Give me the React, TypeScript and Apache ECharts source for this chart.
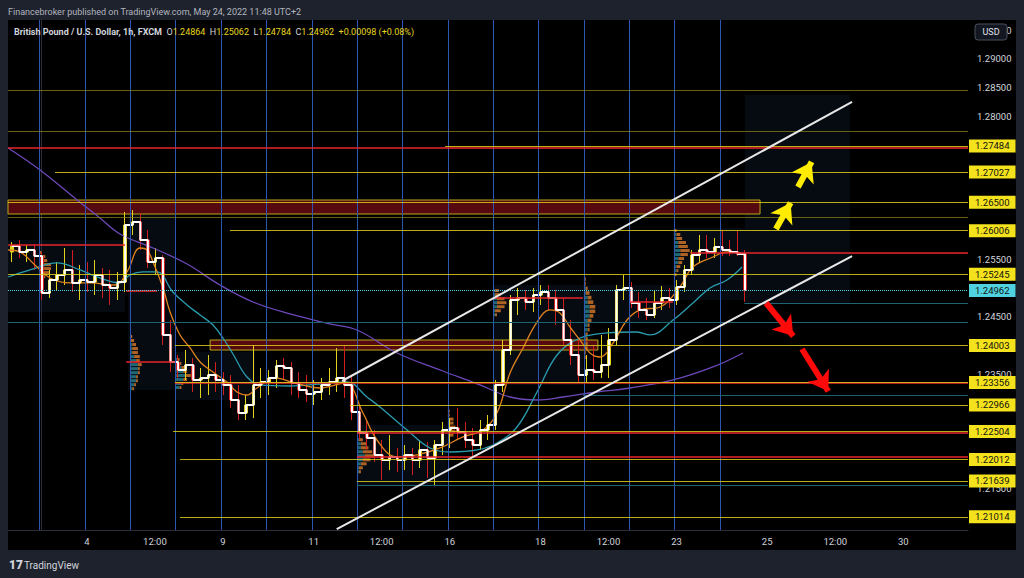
import React, { useEffect, useRef } from 'react';
import * as echarts from 'echarts';

// ---------------- data ----------------
// 4-hour candles: [open, close, low, high]
const candles: number[][] = [
  [1.25633, 1.25737, 1.25458, 1.25807], [1.25737, 1.25633, 1.25528, 1.25842], [1.25633, 1.25668, 1.25458, 1.25755], [1.25668, 1.25563, 1.25319, 1.25772],
  [1.25563, 1.24918, 1.24796, 1.25633], [1.24918, 1.25144, 1.24831, 1.25319], [1.25144, 1.25231, 1.24970, 1.25458], [1.25231, 1.25319, 1.25057, 1.25702],
  [1.25319, 1.25092, 1.24935, 1.25668], [1.25092, 1.25144, 1.24796, 1.25406], [1.25144, 1.25109, 1.24935, 1.25458], [1.25109, 1.25231, 1.24883, 1.25493],
  [1.25231, 1.25057, 1.24831, 1.25354], [1.25057, 1.25005, 1.24709, 1.25319], [1.25005, 1.25109, 1.24796, 1.25284], [1.25109, 1.26104, 1.24935, 1.26331],
  [1.26104, 1.26156, 1.25930, 1.26366], [1.26156, 1.25842, 1.25668, 1.26296], [1.25842, 1.25458, 1.25354, 1.26017], [1.25458, 1.25528, 1.25231, 1.25702],
  [1.25528, 1.24185, 1.24011, 1.25580], [1.24185, 1.23714, 1.23539, 1.24447], [1.23714, 1.23574, 1.23435, 1.23836], [1.23574, 1.23662, 1.23400, 1.23923],
  [1.23662, 1.23400, 1.23191, 1.23784], [1.23400, 1.23435, 1.23086, 1.23609], [1.23435, 1.23487, 1.23138, 1.23836], [1.23487, 1.23400, 1.23191, 1.23714],
  [1.23400, 1.23313, 1.23138, 1.23539], [1.23313, 1.23051, 1.22912, 1.23487], [1.23051, 1.22825, 1.22702, 1.23313], [1.22825, 1.22964, 1.22702, 1.23138],
  [1.22964, 1.23313, 1.22737, 1.24011], [1.23313, 1.23365, 1.23086, 1.23609], [1.23365, 1.23435, 1.23138, 1.23574], [1.23435, 1.23644, 1.23260, 1.23749],
  [1.23644, 1.23609, 1.23400, 1.23784], [1.23609, 1.23348, 1.23138, 1.23714], [1.23348, 1.23226, 1.23086, 1.23539], [1.23226, 1.23156, 1.23016, 1.23487],
  [1.23156, 1.23191, 1.22964, 1.23400], [1.23191, 1.23313, 1.23051, 1.23435], [1.23313, 1.23365, 1.23138, 1.23609], [1.23365, 1.23435, 1.23191, 1.23958],
  [1.23435, 1.23313, 1.23086, 1.24011], [1.23313, 1.22842, 1.22702, 1.23487], [1.22842, 1.22476, 1.22354, 1.22964], [1.22476, 1.22389, 1.22179, 1.22702],
  [1.22389, 1.22092, 1.21970, 1.22528], [1.22092, 1.22005, 1.21656, 1.22354], [1.22005, 1.22057, 1.21830, 1.22441], [1.22057, 1.22005, 1.21795, 1.22214],
  [1.22005, 1.22092, 1.21830, 1.22266], [1.22092, 1.22005, 1.21743, 1.22214], [1.22005, 1.22179, 1.21865, 1.22354], [1.22179, 1.22040, 1.21691, 1.22319],
  [1.22040, 1.22266, 1.21569, 1.22354], [1.22266, 1.22528, 1.22092, 1.22668], [1.22528, 1.22563, 1.22214, 1.22737], [1.22563, 1.22493, 1.22354, 1.22912],
  [1.22493, 1.22354, 1.22214, 1.22668], [1.22354, 1.22266, 1.22040, 1.22563], [1.22266, 1.22528, 1.22179, 1.22702], [1.22528, 1.22615, 1.22354, 1.22790],
  [1.22615, 1.23313, 1.22528, 1.23400], [1.23313, 1.23923, 1.23191, 1.24098], [1.23923, 1.24796, 1.23836, 1.24883], [1.24796, 1.24831, 1.24534, 1.25005],
  [1.24831, 1.24761, 1.24621, 1.24970], [1.24761, 1.24883, 1.24586, 1.25005], [1.24883, 1.24935, 1.24709, 1.25057], [1.24935, 1.24831, 1.24621, 1.25057],
  [1.24831, 1.24621, 1.24360, 1.24970], [1.24621, 1.24098, 1.24011, 1.24831], [1.24098, 1.23836, 1.23662, 1.24447], [1.23836, 1.23487, 1.23365, 1.24098],
  [1.23487, 1.23574, 1.23365, 1.23836], [1.23574, 1.23539, 1.23400, 1.24011], [1.23539, 1.23662, 1.23435, 1.24185], [1.23662, 1.24098, 1.23435, 1.24307],
  [1.24098, 1.24970, 1.24011, 1.25057], [1.24970, 1.25005, 1.24796, 1.25231], [1.25005, 1.24744, 1.24656, 1.25109], [1.24744, 1.24621, 1.24482, 1.24935],
  [1.24621, 1.24534, 1.24447, 1.24831], [1.24534, 1.24744, 1.24482, 1.24970], [1.24744, 1.24831, 1.24621, 1.25039], [1.24831, 1.24796, 1.24656, 1.25005],
  [1.24796, 1.25022, 1.24709, 1.25144], [1.25022, 1.25319, 1.24935, 1.25406], [1.25319, 1.25580, 1.25231, 1.25668], [1.25580, 1.25668, 1.25458, 1.25930],
  [1.25668, 1.25633, 1.25528, 1.25930], [1.25633, 1.25720, 1.25528, 1.25877], [1.25720, 1.25668, 1.25563, 1.26017], [1.25668, 1.25633, 1.25563, 1.25842],
  [1.25633, 1.25598, 1.25563, 1.25999], [1.25598, 1.24962, 1.24761, 1.25668],
];

// hours of trading time, 0 = May 3 00:00
const hourMin = -17.75;
const hourMax = 490.25;
const slotHours = 4;

const timeTickHours = [24, 60, 96, 144, 180, 216, 264, 300, 336, 384, 420, 456];
const timeTickLabels = ['4', '12:00', '9', '11', '12:00', '16', '18', '12:00', '23', '25', '12:00', '30'];
const sessionBreakHours = [-1, 23, 47, 71, 95, 119, 143, 167, 191, 215, 239, 263, 287, 311, 335, 359];

const priceMin = 1.20784;
const priceMax = 1.2968;
const priceTicks = [1.295, 1.29, 1.285, 1.28, 1.255, 1.245, 1.235, 1.215];

const lastBar = [1.24864, 1.25062, 1.24784, 1.24962];
const lastChange = '+0.00098 (+0.08%)';

// moving averages [hour, price]
const maFast = [
  [-17.7, 1.25668], [-11.4, 1.25634], [-3.5, 1.25407], [4.5, 1.2518], [15.1, 1.25093], [25.6, 1.25093], [38.9, 1.25058], [45.2, 1.25285],
  [52.1, 1.25703], [55.8, 1.25668], [59.0, 1.25459], [64.3, 1.25006], [68.0, 1.24587], [73.3, 1.24186], [78.6, 1.23959], [83.9, 1.23715],
  [90.7, 1.2354], [98.1, 1.23366], [103.4, 1.23191], [108.7, 1.23139], [114.0, 1.23261], [123.5, 1.23436], [134.1, 1.23348], [147.4, 1.23261],
  [160.6, 1.23348], [170.1, 1.22825], [177.5, 1.22354], [188.1, 1.22058], [198.7, 1.22093], [210.9, 1.22215], [223.0, 1.22407], [233.6, 1.22529],
  [241.0, 1.22825], [247.9, 1.23523], [254.8, 1.23959], [262.2, 1.24412], [269.0, 1.24622], [274.3, 1.24569], [279.6, 1.24325], [284.9, 1.24099],
  [290.2, 1.23872], [295.5, 1.23802], [302.4, 1.24046], [309.8, 1.24447], [316.7, 1.24622], [327.3, 1.24674], [337.8, 1.25023], [344.7, 1.25372],
  [355.3, 1.25546], [362.7, 1.25634], [369.6, 1.25616], [372.2, 1.25564],
];
const maMid = [
  [-17.7, 1.25197], [-6.1, 1.2532], [8.2, 1.25442], [20.4, 1.2532], [30.9, 1.2518], [41.5, 1.25093], [46.8, 1.25232], [53.7, 1.25285],
  [61.1, 1.25285], [69.5, 1.24936], [77.0, 1.24709], [83.9, 1.24535], [90.7, 1.2436], [96.0, 1.24133], [101.3, 1.23854], [108.7, 1.23453],
  [115.6, 1.23314], [131.5, 1.23296], [147.4, 1.23331], [161.6, 1.23366], [172.2, 1.23104], [179.1, 1.2293], [193.4, 1.22529], [205.6, 1.22215],
  [216.2, 1.22145], [230.5, 1.2218], [241.0, 1.22302], [251.6, 1.22581], [262.2, 1.23191], [272.8, 1.23837], [285.0, 1.24133], [299.2, 1.24221],
  [315.1, 1.24238], [322.0, 1.24186], [334.2, 1.24447], [344.7, 1.24744], [353.7, 1.25006], [362.7, 1.25145], [370.7, 1.25372],
];
const maSlow = [
  [-17.7, 1.27448], [-0.8, 1.27064], [18.8, 1.26541], [30.9, 1.26227], [41.5, 1.25947], [59.0, 1.25703], [77.0, 1.25424], [94.4, 1.25058],
  [111.9, 1.24761], [131.5, 1.24552], [152.6, 1.24378], [166.9, 1.24273], [188.1, 1.23872], [210.9, 1.23575], [232.0, 1.23314], [247.9, 1.23104],
  [262.2, 1.23052], [275.9, 1.23104], [293.9, 1.23191], [311.4, 1.23261], [334.2, 1.23401], [355.3, 1.23628], [371.2, 1.23872],
];

// labelled horizontal levels and the hour where each line starts
const labelledLevels = [1.27484, 1.27027, 1.265, 1.26006, 1.25245, 1.24003, 1.23356, 1.22966, 1.22504, 1.22012, 1.21639, 1.21014];
const labelledLevelStarts = [213.5, 7.1, -17.75, 99.7, -17.75, 70.6, 70.6, 163.2, 69.6, 73.3, 166.9, 73.3];
// unlabelled olive levels (full width)
const oliveLevels = [1.2846, 1.2774, 1.2624];
// red segments [price, startHour, endHour]
const redSegments = [
  [1.27448, -17.75, 490.25], [1.25755, -17.75, 44.2], [1.24953, 44.8, 61.1], [1.23714, 44.8, 70.6],
  [1.23356, 70.6, 490.25], [1.2483, 238.9, 286.5], [1.24761, 311.4, 334.2], [1.25615, 343.2, 490.25],
  [1.22476, 166.9, 490.25], [1.22057, 166.9, 490.25],
];
// teal segments [price, startHour, endHour]
const tealSegments = [
  [1.24744, 371.8, 490.25], [1.24412, -17.75, 490.25], [1.23138, 286.5, 490.25], [1.21569, 166.9, 490.25],
];
// red zones [top, bottom, startHour, endHour]
const zones = [
  [1.2654, 1.26296, -17.75, 380.2],
  [1.24098, 1.23923, 89.2, 294.4],
];
// shaded profile boxes [startHour, endHour, top, bottom]
const profileBoxes = [
  [-17.75, 44.2, 1.25842, 1.24587], [45.8, 70.6, 1.26331, 1.23226], [70.6, 113.0, 1.23889, 1.23051],
  [166.9, 214.5, 1.22615, 1.21569], [238.9, 286.5, 1.25057, 1.23313], [286.5, 334.2, 1.25057, 1.24412],
  [334.2, 372.2, 1.26052, 1.24796], [372.2, 427.8, 1.28372, 1.24744],
];
// session volume profiles: start hour, top bin price, bin size, up (teal) and down (orange) volume in hours of width
const profileStartHours = [-1, 47, 71, 167, 215, 239, 287, 335];
const profileTopPrices = [1.25615, 1.2415, 1.2375, 1.2235, 1.2285, 1.2495, 1.2515, 1.26];
const profileBinSizes = [0.0007, 0.0007, 0.0007, 0.0007, 0.0007, 0.0007, 0.0008, 0.0007];
const profileUp = [
  [0, 1, 1, 2, 2, 2, 1, 0],
  [0, 0, 1, 1, 1, 2, 3, 4, 4, 4, 3, 3, 2, 1],
  [1, 2, 3, 4, 5, 4, 3, 2],
  [1, 2, 2, 3, 4, 3, 2, 1, 1],
  [0, 0, 1, 1, 1, 1, 1, 0, 0],
  [1, 1, 2, 2, 2, 1, 1],
  [0, 0, 1, 1, 2, 2, 3, 3, 3, 2, 2, 2, 1, 1, 1, 1, 0, 0],
  [0, 1, 1, 2, 2, 3, 3, 2, 2, 1, 1, 0],
];
const profileDown = [
  [1, 2, 3, 4, 4, 3, 2, 1],
  [1, 2, 2, 3, 3, 3, 2, 2, 1, 1, 1, 1, 1, 1],
  [1, 1, 2, 2, 3, 2, 1, 1],
  [2, 3, 4, 5, 5, 4, 3, 2, 1],
  [1, 1, 2, 2, 3, 3, 2, 1, 1],
  [2, 3, 4, 5, 4, 3, 1],
  [1, 1, 1, 2, 2, 3, 3, 3, 2, 2, 1, 1, 1, 1, 1, 1, 1, 1],
  [1, 2, 3, 4, 5, 5, 4, 3, 2, 2, 1, 1],
];
// channel lines [[hour, price], [hour, price]]
const channelUpper = [[159.0, 1.23383], [428.9, 1.2825]];
const channelLower = [[156.2, 1.208], [428.9, 1.25563]];
// arrows [[tailHour, tailPrice], [headHour, headPrice]]
const upArrows = [
  [[388.6, 1.26035], [396.4, 1.26492]],
  [[400.3, 1.26767], [407.5, 1.27205]],
];
const downArrows = [
  [[383.4, 1.24744], [397.8, 1.24166]],
  [[402.4, 1.23941], [416.3, 1.23204]],
];

// ---------------- chart ----------------
const FONT = 'Roboto, "Noto Sans", sans-serif';
const YELLOW_BOX = '#f4e21c';
const CYAN = '#4fd1e0';

export default function App() {
  const ref = useRef<HTMLDivElement>(null);

  useEffect(() => {
    if (!ref.current) return;
    const chart = echarts.init(ref.current, null, { renderer: 'svg' });

    const slotCount = Math.round((hourMax - hourMin) / slotHours);
    const slots = Array.from({ length: slotCount }, (_, i) => String(i));
    const closes = candles.map((c) => c[1]);
    const lastPrice = closes[closes.length - 1];

    // volume-profile bins: [startHour, price, upLen, downLen, binSize]
    const profileBins: number[][] = [];
    profileStartHours.forEach((h0, i) => {
      profileUp[i].forEach((u, j) => {
        profileBins.push([h0, profileTopPrices[i] - j * profileBinSizes[i], u, profileDown[i][j], profileBinSizes[i]]);
      });
    });

    const hSeg = (p: number, h1: number, h2: number, color: string, width: number, extra: any = {}) => [
      { coord: [h1, p], lineStyle: { color, width, type: 'solid' }, ...extra },
      { coord: [h2, p] },
    ];

    const underLines: any[] = [];
    sessionBreakHours.forEach((h) =>
      underLines.push({ xAxis: h, lineStyle: { color: '#2c55b4', width: 1, type: 'solid' } })
    );
    oliveLevels.forEach((p) => underLines.push(hSeg(p, hourMin, hourMax, 'rgba(140,130,20,0.75)', 1)));
    tealSegments.forEach(([p, a, b]) => underLines.push(hSeg(p, a, b, '#1b6470', 1.2)));
    redSegments.forEach(([p, a, b]) => underLines.push(hSeg(p, a, b, '#e8262b', 1.6)));
    labelledLevels.forEach((p, i) =>
      underLines.push(
        hSeg(p, labelledLevelStarts[i], hourMax, 'rgba(220,205,25,0.85)', 1.2, {
          label: {
            show: true,
            position: 'end',
            distance: 1,
            formatter: p.toFixed(5),
            backgroundColor: YELLOW_BOX,
            color: '#111',
            fontSize: 9.5,
            fontFamily: FONT,
            padding: [2, 6, 1, 6],
          },
        })
      )
    );
    // current price
    underLines.push(
      hSeg(lastPrice, hourMin, hourMax, CYAN, 1, {
        lineStyle: { color: CYAN, width: 1, type: 'dotted' },
        label: {
          show: true,
          position: 'end',
          distance: 1,
          formatter: lastPrice.toFixed(5),
          backgroundColor: CYAN,
          color: '#111',
          fontSize: 9.5,
          fontFamily: FONT,
          padding: [2, 6, 1, 6],
        },
      })
    );
    underLines.push(
      hSeg(lastPrice, hourMax - 30, hourMax, 'rgba(0,0,0,0)', 0, {
        lineStyle: { opacity: 0 },
        label: {
          show: true,
          position: 'insideEnd',
          distance: 2,
          formatter: 'GBPUSD',
          backgroundColor: CYAN,
          color: '#111',
          fontSize: 9,
          fontFamily: FONT,
          padding: [2, 4, 1, 4],
        },
      })
    );

    const zoneAreas = zones.map(([top, bottom, a, b]) => [
      { coord: [a, top], itemStyle: { color: '#560a10', borderColor: '#b8a81a', borderWidth: 1 } },
      { coord: [b, bottom] },
    ]);
    const boxAreas = profileBoxes.map(([a, b, top, bottom]) => [
      { coord: [a, top], itemStyle: { color: 'rgba(30,55,90,0.2)' } },
      { coord: [b, bottom] },
    ]);

    const arrowLine = (arr: number[][], color: string) => [
      { coord: arr[0], lineStyle: { color, width: 6, type: 'solid' }, itemStyle: { color } },
      { coord: arr[1], itemStyle: { color } },
    ];

    const option: any = {
      animation: false,
      backgroundColor: 'transparent',
      grid: { left: 8, right: 56, top: 20, bottom: 48, containLabel: false },
      xAxis: [
        {
          type: 'value',
          min: hourMin,
          max: hourMax,
          axisLine: { show: true, lineStyle: { color: '#2a2e39' } },
          axisTick: { show: false },
          splitLine: { show: false },
          axisLabel: {
            customValues: timeTickHours,
            formatter: (v: number) => {
              const i = timeTickHours.indexOf(v);
              return i >= 0 ? timeTickLabels[i] : '';
            },
            color: '#d1d4dc',
            fontSize: 9.5,
            fontFamily: FONT,
            margin: 6,
          },
        },
        {
          type: 'category',
          data: slots,
          show: false,
          boundaryGap: true,
        },
      ],
      yAxis: {
        type: 'value',
        position: 'right',
        min: priceMin,
        max: priceMax,
        axisLine: { show: true, lineStyle: { color: '#2a2e39' } },
        axisTick: { show: false },
        splitLine: { show: false },
        axisLabel: {
          customValues: priceTicks,
          formatter: (v: number) => v.toFixed(5),
          color: '#d1d4dc',
          fontSize: 9.5,
          fontFamily: FONT,
          margin: 9,
        },
      },
      series: [
        {
          type: 'line',
          name: 'under',
          xAxisIndex: 0,
          data: [],
          z: 1,
          silent: true,
          markArea: { silent: true, data: [...boxAreas, ...zoneAreas] },
          markLine: {
            silent: true,
            symbol: ['none', 'none'],
            label: { show: false },
            data: underLines,
          },
        },
        {
          type: 'custom',
          name: 'profiles',
          xAxisIndex: 0,
          z: 1,
          silent: true,
          data: profileBins,
          renderItem: (params: any, api: any) => {
            const h0 = api.value(0);
            const p = api.value(1);
            const up = api.value(2);
            const down = api.value(3);
            const bs = api.value(4);
            const a = api.coord([h0, p + bs / 2]);
            const b = api.coord([h0 + up, p - bs / 2]);
            const c = api.coord([h0 + up + down, p - bs / 2]);
            const hgt = Math.max(1, b[1] - a[1] - 1);
            return {
              type: 'group',
              children: [
                { type: 'rect', shape: { x: a[0], y: a[1], width: b[0] - a[0], height: hgt }, style: { fill: 'rgba(38,128,143,0.8)' } },
                { type: 'rect', shape: { x: b[0], y: a[1], width: c[0] - b[0], height: hgt }, style: { fill: 'rgba(205,115,40,0.85)' } },
              ],
            };
          },
        },
        {
          type: 'candlestick',
          xAxisIndex: 1,
          data: candles,
          barWidth: 3,
          z: 2,
          silent: true,
          itemStyle: {
            color: '#e3d21d',
            color0: '#d11f1f',
            borderColor: '#e3d21d',
            borderColor0: '#d11f1f',
            borderWidth: 1,
          },
        },
        {
          type: 'line',
          name: 'slow',
          xAxisIndex: 0,
          data: maSlow,
          smooth: 0.4,
          showSymbol: false,
          z: 3,
          lineStyle: { color: '#6d48b8', width: 1.3 },
        },
        {
          type: 'line',
          name: 'mid',
          xAxisIndex: 0,
          data: maMid,
          smooth: 0.4,
          showSymbol: false,
          z: 3,
          lineStyle: { color: '#2a9cae', width: 1.3 },
        },
        {
          type: 'line',
          name: 'fast',
          xAxisIndex: 0,
          data: maFast,
          smooth: 0.4,
          showSymbol: false,
          z: 3,
          lineStyle: { color: '#e0821e', width: 1.3 },
        },
        {
          type: 'line',
          name: 'htf',
          xAxisIndex: 1,
          data: closes,
          step: 'end',
          showSymbol: false,
          z: 4,
          lineStyle: { color: '#ffffff', width: 2 },
        },
        {
          type: 'line',
          name: 'over',
          xAxisIndex: 0,
          data: [],
          z: 6,
          silent: true,
          markLine: {
            silent: true,
            symbol: ['none', 'none'],
            label: { show: false },
            data: [
              [{ coord: channelUpper[0], lineStyle: { color: '#e8e8e8', width: 2, type: 'solid' } }, { coord: channelUpper[1] }],
              [{ coord: channelLower[0], lineStyle: { color: '#e8e8e8', width: 2, type: 'solid' } }, { coord: channelLower[1] }],
            ],
          },
        },
        {
          type: 'line',
          name: 'arrows',
          xAxisIndex: 0,
          data: [],
          z: 7,
          silent: true,
          markLine: {
            silent: true,
            symbol: ['none', 'arrow'],
            symbolSize: 19,
            label: { show: false },
            data: [
              ...upArrows.map((a) => arrowLine(a, '#ffec00')),
              ...downArrows.map((a) => arrowLine(a, '#ff0a0a')),
            ],
          },
        },
      ],
      graphic: [
        {
          type: 'text',
          x: 8,
          y: 12,
          z: 100,
          style: {
            text: 'Financebroker published on TradingView.com, May 24, 2022 11:48 UTC+2',
            fill: '#b2b5be',
            fontSize: 9,
            fontFamily: FONT,
            verticalAlign: 'middle',
          },
        },
        {
          type: 'text',
          x: 14,
          y: 32,
          z: 100,
          style: {
            text:
              '{t|British Pound / U.S. Dollar, 1h, FXCM}  {k|O}{v|' + lastBar[0].toFixed(5) + '}  {k|H}{v|' + lastBar[1].toFixed(5) +
              '}  {k|L}{v|' + lastBar[2].toFixed(5) + '}  {k|C}{v|' + lastBar[3].toFixed(5) + '}  {v|' + lastChange + '}',
            verticalAlign: 'middle',
            fontSize: 9,
            fontFamily: FONT,
            fill: '#d1d4dc',
            rich: {
              t: { fill: '#d1d4dc', fontSize: 9, fontFamily: FONT, fontWeight: 'bold' },
              k: { fill: '#d1d4dc', fontSize: 9, fontFamily: FONT },
              v: { fill: '#e6d520', fontSize: 9, fontFamily: FONT },
            },
          },
        },
        {
          type: 'rect',
          z: 100,
          shape: { x: 975, y: 24, width: 32, height: 16, r: 3 },
          style: { fill: '#131722', stroke: '#4a4e5a', lineWidth: 1 },
        },
        {
          type: 'text',
          x: 991,
          y: 32,
          z: 101,
          style: { text: 'USD', fill: '#e0e3eb', fontSize: 9, fontFamily: FONT, align: 'center', verticalAlign: 'middle' },
        },
        {
          type: 'text',
          x: 9,
          y: 565,
          z: 100,
          style: { text: '17', fill: '#d1d4dc', fontSize: 12, fontWeight: 900, fontFamily: FONT, verticalAlign: 'middle' },
        },
        {
          type: 'text',
          x: 24,
          y: 565,
          z: 100,
          style: { text: 'TradingView', fill: '#d1d4dc', fontSize: 10, fontFamily: FONT, verticalAlign: 'middle' },
        },
      ],
    };

    chart.setOption(option);
    return () => chart.dispose();
  }, []);

  return (
    <div style={{ position: 'fixed', left: 0, top: 0, width: 1024, height: 578, background: '#1e222d' }}>
      <div style={{ position: 'absolute', left: 8, top: 20, width: 1008, height: 530, background: '#000' }} />
      <div ref={ref} style={{ position: 'absolute', left: 0, top: 0, width: 1024, height: 578 }} />
    </div>
  );
}
